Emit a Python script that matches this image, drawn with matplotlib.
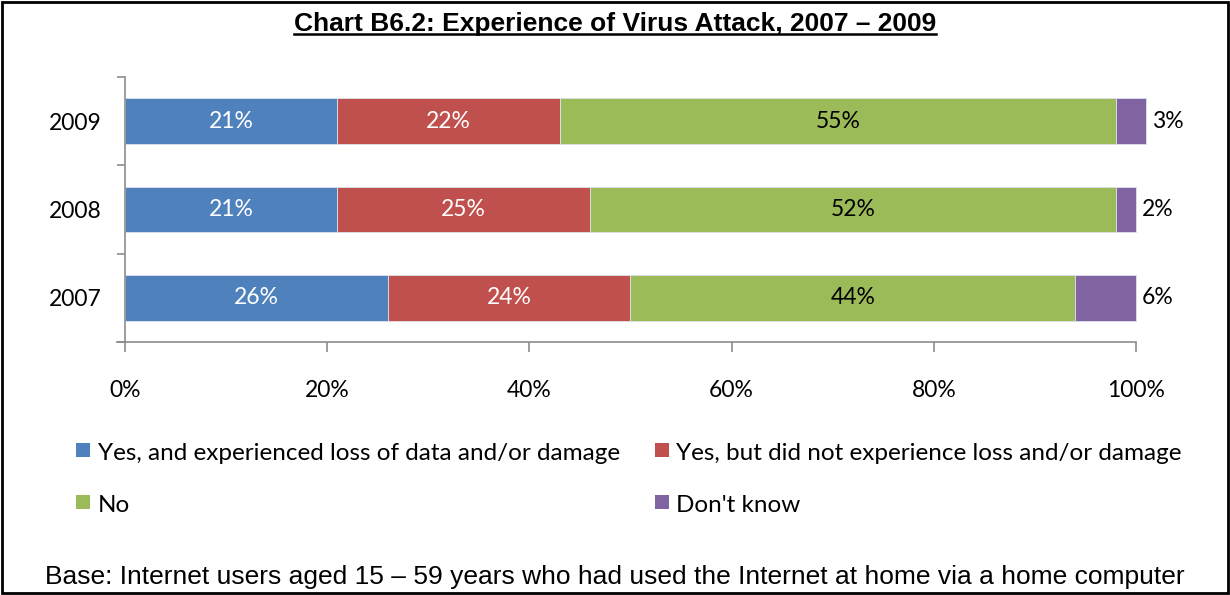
import numpy as np
import matplotlib
matplotlib.use('Agg')
import matplotlib.pyplot as plt
from matplotlib.patches import Rectangle
from matplotlib.lines import Line2D

# 数据
years = ['2007', '2008', '2009']
loss_damage = [26, 21, 21]
no_loss = [24, 25, 22]
no_attack = [44, 52, 55]
dont_know = [6, 2, 3]

series_names = ['Yes, and experienced loss of data and/or damage',
                'Yes, but did not experience loss and/or damage',
                'No',
                "Don't know"]
series_colors = ['#4F81BD', '#C0504D', '#9BBB59', '#8064A2']
label_colors = ['white', 'white', 'black', None]

title_text = 'Chart B6.2: Experience of Virus Attack, 2007 \u2013 2009'
base_text = ('Base: Internet users aged 15 \u2013 59 years who had used the '
             'Internet at home via a home computer')

body_font = ['Lato', 'DejaVu Sans']
head_font = ['Liberation Sans', 'DejaVu Sans']

fig = plt.figure(figsize=(12.3, 5.95), dpi=100)
ax = fig.add_axes([0.1016, 0.4252, 0.8220, 0.4454])

y = np.arange(len(years))
left = np.zeros(len(years))
all_series = [loss_damage, no_loss, no_attack, dont_know]
for vals, color, lcol in zip(all_series, series_colors, label_colors):
    vals = np.array(vals, dtype=float)
    ax.barh(y, vals, left=left, height=0.52, color=color,
            edgecolor='#dde3ee', linewidth=0.6, clip_on=False)
    for i, v in enumerate(vals):
        if lcol is not None:
            ax.text(left[i] + v / 2, y[i], f'{v:.0f}%', ha='center', va='center',
                    color=lcol, fontsize=16.5, family=body_font)
        else:
            # 最后一段的标签放在条形右侧
            ax.text(left[i] + v + 0.6, y[i], f'{v:.0f}%', ha='left', va='center',
                    color='black', fontsize=16.5, family=body_font)
    left += vals

ax.set_xlim(0, 100)
ax.set_ylim(-0.5, 2.5)
ax.set_xticks(np.arange(0, 101, 20))
ax.set_xticklabels([f'{t}%' for t in range(0, 101, 20)], family=body_font, fontsize=16.5)
ax.set_yticks(y)
ax.set_yticklabels(years, family=body_font, fontsize=16.5)
ax.set_yticks([-0.5, 0.5, 1.5, 2.5], minor=True)

ax.tick_params(axis='y', which='major', length=0, pad=17)
ax.tick_params(axis='y', which='minor', length=6, width=1.2, color='#8c8c8c', direction='out')
ax.tick_params(axis='x', which='major', length=7, width=1.2, color='#8c8c8c',
               direction='out', pad=20)

for side in ['top', 'right']:
    ax.spines[side].set_visible(False)
for side in ['left', 'bottom']:
    ax.spines[side].set_color('#8c8c8c')
    ax.spines[side].set_linewidth(1.2)
# x轴线向左延伸到刻度处
ax.plot([-0.8, 0], [-0.5, -0.5], color='#8c8c8c', lw=1.2, clip_on=False,
        transform=ax.transData)

# 图例（两列）
legend_pos = [(0.0618, 0.2437), (0.5325, 0.2437), (0.0618, 0.1563), (0.5325, 0.1563)]
for (lx, ly), name, color in zip(legend_pos, series_names, series_colors):
    fig.patches.append(Rectangle((lx, ly - 0.0118), 0.0114, 0.0236, transform=fig.transFigure,
                                 facecolor=color, edgecolor='none'))
    fig.text(lx + 0.0175, ly - 0.006, name, ha='left', va='center', fontsize=17.5,
             family=body_font)

# 标题（带下划线）
title = fig.text(0.5, 0.959, title_text, ha='center', va='center', fontsize=19,
                 fontweight='bold', family=head_font)
fig.text(0.5, 0.030, base_text, ha='center', va='center', fontsize=19, family=head_font)

fig.canvas.draw()
bb = title.get_window_extent().transformed(fig.transFigure.inverted())
fig.lines.append(Line2D([bb.x0, bb.x1], [bb.y0 + 0.004, bb.y0 + 0.004], transform=fig.transFigure,
                        color='black', lw=1.8))

# 外框
fig.patches.append(Rectangle((0.002, 0.003), 0.996, 0.994, transform=fig.transFigure,
                             facecolor='none', edgecolor='black', linewidth=2))

fig.savefig('out.png', dpi=100)
